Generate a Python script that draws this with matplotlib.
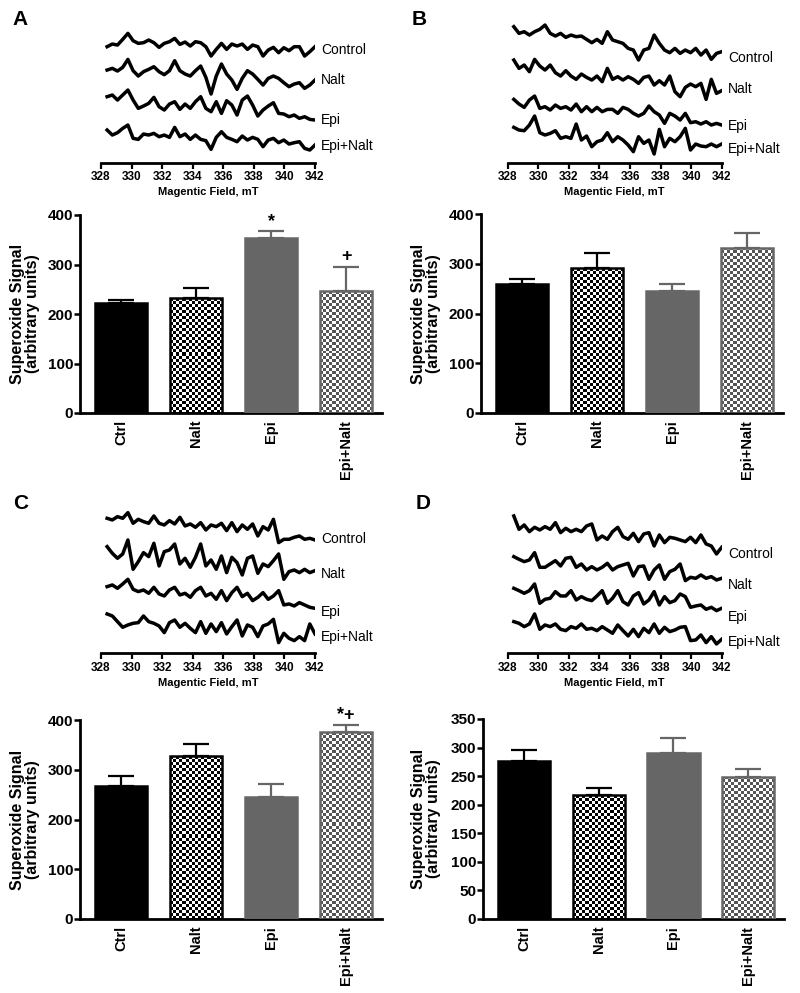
import numpy as np
import matplotlib
matplotlib.use("Agg")
import matplotlib.pyplot as plt
from matplotlib.colors import ListedColormap

plt.rcParams["font.family"] = ["Liberation Sans", "DejaVu Sans"]

groups = ["Ctrl", "Nalt", "Epi", "Epi+Nalt"]
trace_names = ["Control", "Nalt", "Epi", "Epi+Nalt"]

# superoxide signal, mean and SEM (upper arm only)
mean_a = [222, 232, 353, 246]
sem_a = [6, 21, 14, 49]
mark_a = ["", "", "*", "+"]
mean_b = [260, 291, 245, 332]
sem_b = [9, 31, 14, 30]
mark_b = ["", "", "", ""]
mean_c = [268, 327, 246, 375]
sem_c = [19, 24, 25, 14]
mark_c = ["", "", "", "*+"]
mean_d = [276, 217, 290, 249]
sem_d = [19, 12, 26, 13]
mark_d = ["", "", "", ""]

# EPR spectra, amplitude at each field position (mT)
field = np.linspace(328.4, 342.0, 41)

a_control = [0, 8, 5, 22, 40, 18, 10, 12, 20, 12, -2, 10, 15, 25, 7, 14, 2, 15, 12, 0,
             -28, -8, 10, -8, 8, 2, 8, -8, 5, 0, -28, -10, -2, -18, -3, -12, 0, 0, -28, -15, 0]
a_nalt = [5, 10, 2, 13, 37, 3, -13, 0, 7, 15, 0, -9, 3, 33, 3, -7, -13, 3, 17, -17,
          -67, -13, 23, -7, -25, -53, -20, 3, -7, -23, -40, -20, -13, -20, -33, -45, -37, -33, -50, -40, -25]
a_epi = [20, 25, 10, 25, 40, 10, -15, -8, 0, 18, -10, -20, -2, 5, -18, -2, -15, 5, 20, -15,
         -25, 5, -30, 8, -5, -35, 10, 22, -5, -38, -20, -8, 2, -30, -32, -40, -35, -45, -40, -48, -50]
a_combo = [20, 5, 12, 25, 35, -5, -8, 8, 5, 10, 0, 5, -2, 28, 0, 8, -8, 5, -8, -12,
           -38, -2, 15, -2, -8, -15, 2, -10, -2, -8, -30, -10, -5, -18, -10, -22, -18, -15, -35, -40, -25]

b_control = [50, 30, 35, 25, 35, 42, 55, 30, 22, 30, 18, 25, 20, 22, 12, 2, 12, 0, 35, 10,
             5, 0, -15, -20, -50, -20, -15, 25, 0, -20, -28, -15, -30, -20, -28, -15, -35, -20, -48, -30, -25]
b_nalt = [50, 25, 35, 15, 52, 32, 20, 35, 12, 2, 18, 2, -8, 8, -2, -10, 2, -15, 25, -8,
          0, -10, 0, -8, -20, -2, 2, -25, -12, -25, 2, -45, -60, -32, -22, -30, -20, -68, -8, -50, -42]
b_epi = [32, 18, 8, 30, 42, 5, 10, 0, 15, 5, 10, 0, 18, -5, 10, -5, 8, -5, 2, 2,
         -10, 8, 2, -10, -18, -10, 12, -5, -15, -40, -10, -18, -30, -10, -38, -35, -42, -35, -45, -40, -45]
b_combo = [33, 25, 23, 40, 67, 17, 10, 15, 23, 0, 5, 0, 43, -5, 7, -25, -10, -5, 17, -10,
           5, -5, -20, -40, 5, -15, -5, -47, 27, -25, 0, -10, 5, 30, -35, -17, -23, -25, -17, -25, -17]

c_control = [25, 20, 30, 25, 42, 10, 22, 15, 10, 32, 10, 5, 18, 8, 28, 2, 8, -2, 12, -10,
             5, 0, 10, -12, 12, -15, 5, -8, 8, -28, 0, -10, 22, -48, -38, -38, -32, -28, -38, -35, -40]
c_nalt = [40, 20, 5, 18, 60, -28, -5, 22, 10, 50, -18, 25, 30, 48, -12, 5, -22, 8, 48, -18,
          0, -28, 12, -38, 8, -8, -45, 5, 12, -40, -12, -20, -2, 18, -58, -35, -30, -38, -28, -38, -32]
c_epi = [25, 30, 20, 33, 47, 17, 10, 15, 5, 23, 3, -3, 15, 23, 0, 5, -7, 13, 23, -3,
         5, -13, 13, -17, 7, 23, -5, 5, -17, -7, 7, -13, -3, 13, -30, -27, -33, -23, -30, -37, -40]
c_combo = [38, 32, 15, -2, 5, 10, 12, 32, 15, 10, 2, -18, 12, 20, -2, 10, -5, -18, 15, -20,
           8, -15, 12, -22, 0, 20, -28, 5, -2, -30, 2, 8, 22, -48, -20, -35, -42, -30, -42, 8, -22]

d_control = [52, 12, 25, 5, 18, 10, 20, 12, 32, 2, 15, 5, 12, 5, 22, 28, -20, -8, -18, 5,
             18, -10, -18, 0, -25, -2, 2, -38, -5, -28, -12, -15, -20, -25, -12, -28, -5, -32, -38, -62, -42]
d_nalt = [30, 22, 15, 20, 42, -2, -2, 8, 18, 2, 25, 28, -2, 8, -10, 0, -10, -2, 10, -10,
          0, 5, 10, -28, 0, 2, -38, -10, 5, -38, -15, -8, 8, -42, -32, -35, -25, -35, -30, -40, -35]
d_epi = [25, 18, 10, 18, 38, -20, -8, -5, 15, 2, 2, 18, -10, 0, -8, -12, 2, 18, -20, -5,
         18, -15, -25, 2, 12, -22, -10, 15, -25, 0, -18, -12, 8, 0, -32, -28, -25, -38, -32, -42, -35]
d_combo = [25, 20, 10, 18, 48, 2, 15, 10, 18, 2, -2, 10, 5, 18, 2, 5, -2, 10, 0, -10,
           15, -2, -18, 2, -20, 5, -8, 18, -10, 8, -5, 0, 8, 10, -32, -30, -15, -38, -20, -42, -28]

W, H = 800, 993
fig = plt.figure(figsize=(W / 100, H / 100), dpi=100, facecolor="white")


def px_axes(left, top, right, bottom):
    return fig.add_axes([left / W, 1 - bottom / H, (right - left) / W, (bottom - top) / H])


def draw_spectra(ax, traces, offsets, label_y):
    for sig, off, name, ly in zip(traces, offsets, trace_names, label_y):
        ax.plot(field, np.array(sig) + off, color="black", lw=2.5)
        ax.text(342.4, ly, name, fontsize=10, va="center", ha="left")
    ax.set_xlim(328, 342)
    ax.set_ylim(0, 450)
    for s in ["top", "right", "left"]:
        ax.spines[s].set_visible(False)
    ax.spines["bottom"].set_linewidth(2.0)
    ax.set_yticks([])
    ax.set_xticks(np.arange(328, 343, 2))
    ax.tick_params(axis="x", direction="out", length=4, width=1.6, labelsize=8.5, pad=2)
    for t in ax.get_xticklabels():
        t.set_fontweight("bold")
    ax.set_xlabel("Magentic Field, mT", fontsize=8, fontweight="bold", labelpad=3)
    ax.patch.set_visible(False)


def draw_bars(ax, means, sems, marks, ymax, ystep, label_x):
    x = np.arange(len(groups))
    faces = ["black", "none", "#666666", "none"]
    edges = ["black", "black", "#666666", "#666666"]
    checks = [None, "black", None, "#555555"]
    ax.set_xlim(-0.55, 3.48)
    ax.set_ylim(0, ymax)
    bars = ax.bar(x, means, width=0.7, color=faces, edgecolor=edges, linewidth=1.8, zorder=3)
    for b, c in zip(bars, checks):
        if c is None:
            continue
        (x0, y0), (x1, y1) = ax.transData.transform(
            [(b.get_x(), 0), (b.get_x() + b.get_width(), b.get_height())])
        nx = max(1, int(round((x1 - x0) / 3)))
        ny = max(1, int(round((y1 - y0) / 3)))
        board = np.indices((ny, nx)).sum(axis=0) % 2
        im = ax.imshow(board, extent=(b.get_x(), b.get_x() + b.get_width(), 0, b.get_height()),
                       cmap=ListedColormap(["white", c]), interpolation="nearest",
                       aspect="auto", origin="lower", zorder=2)
        im.set_clip_path(b)
    for xi, m, s, e, mk in zip(x, means, sems, edges, marks):
        ax.errorbar(xi, m, yerr=[[0], [s]], fmt="none", ecolor=e, elinewidth=1.6,
                    capsize=9.7, capthick=1.6, zorder=1)
        if mk:
            ax.annotate(mk, (xi, m + s), xytext=(0, 4), textcoords="offset points",
                        ha="center", va="baseline", fontsize=13, fontweight="bold")
    ax.set_xlim(-0.55, 3.48)
    ax.set_ylim(0, ymax)
    ax.set_yticks(np.arange(0, ymax + 1, ystep))
    ax.set_xticks(x)
    ax.set_xticklabels(groups, rotation=90, fontsize=10.5, fontweight="bold")
    for t in ax.get_yticklabels():
        t.set_fontweight("bold")
    ax.tick_params(axis="y", direction="out", length=4, width=1.8, labelsize=11, pad=1)
    ax.tick_params(axis="x", length=0, pad=5)
    for s in ["top", "right"]:
        ax.spines[s].set_visible(False)
    for s in ["left", "bottom"]:
        ax.spines[s].set_linewidth(2.0)
    ax.set_ylabel("Superoxide Signal\n(arbitrary units)", fontsize=11.5, fontweight="bold",
                  linespacing=1.0)
    ax.yaxis.set_label_coords(label_x, 0.5)
    ax.yaxis.label.set_va("center")
    ax.patch.set_visible(False)


# panel A
ax = px_axes(101, 12.7, 315, 162.7)
draw_spectra(ax, [a_control, a_nalt, a_epi, a_combo], [348, 273, 178, 78], [338, 248, 128, 51])
ax = px_axes(80, 215, 382, 413)
draw_bars(ax, mean_a, sem_a, mark_a, 400, 100, -0.182)

# panel B
ax = px_axes(507.7, 12.7, 721.7, 162.7)
draw_spectra(ax, [b_control, b_nalt, b_epi, b_combo], [358, 258, 158, 73], [313, 220, 110, 40])
ax = px_axes(481, 214, 783, 413)
draw_bars(ax, mean_b, sem_b, mark_b, 400, 100, -0.182)

# panel C
ax = px_axes(101, 503.3, 315, 653.3)
draw_spectra(ax, [c_control, c_nalt, c_epi, c_combo], [380, 280, 175, 80], [342, 238, 125, 50])
ax = px_axes(80, 720, 382, 919)
draw_bars(ax, mean_c, sem_c, mark_c, 400, 100, -0.182)

# panel D
ax = px_axes(507.7, 503.3, 721.7, 653.3)
draw_spectra(ax, [d_control, d_nalt, d_epi, d_combo], [360, 260, 170, 70], [298, 205, 110, 33])
ax = px_axes(483, 719, 784, 919)
draw_bars(ax, mean_d, sem_d, mark_d, 350, 50, -0.19)

for letter, lx, ly in [("A", 12, 10), ("B", 412, 10), ("C", 13, 494), ("D", 416, 494)]:
    fig.text(lx / W, 1 - ly / H, letter, fontsize=15, fontweight="bold", ha="left", va="top")

fig.savefig("out.png", dpi=100, facecolor="white")
